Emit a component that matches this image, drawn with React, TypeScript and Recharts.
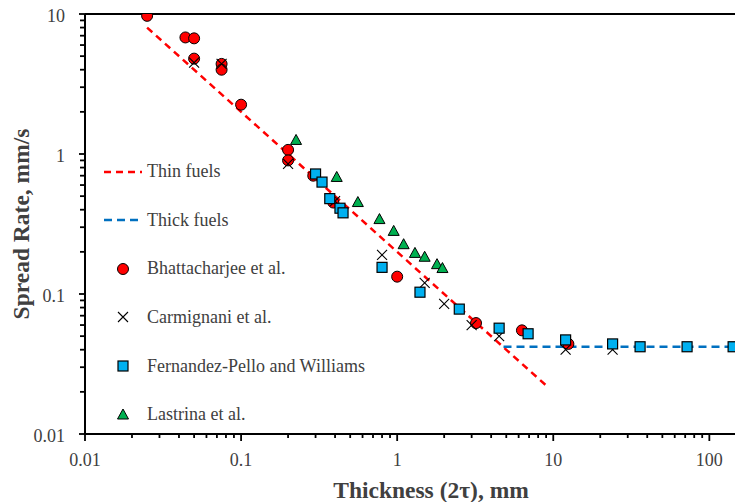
import { ScatterChart, Scatter, XAxis, YAxis, ReferenceLine, Legend, Label } from 'recharts'

type Pt = { x: number; y: number }

// model lines
const thinFuels: Pt[] = [{ x: 0.025, y: 8.0 }, { x: 9.3, y: 0.0215 }]
const thickFuels: Pt[] = [{ x: 4.8, y: 0.042 }, { x: 146, y: 0.042 }]

// measurements
const bhattacharjee: Pt[] = [
  { x: 0.025, y: 9.7 }, { x: 0.044, y: 6.8 }, { x: 0.05, y: 6.7 }, { x: 0.05, y: 4.8 },
  { x: 0.075, y: 4.4 }, { x: 0.075, y: 4.0 }, { x: 0.1, y: 2.25 }, { x: 0.2, y: 1.07 },
  { x: 0.2, y: 0.9 }, { x: 0.29, y: 0.7 }, { x: 0.39, y: 0.45 }, { x: 1.0, y: 0.133 },
  { x: 3.2, y: 0.062 }, { x: 6.3, y: 0.055 }, { x: 12.5, y: 0.044 },
]
const carmignani: Pt[] = [
  { x: 0.05, y: 4.5 }, { x: 0.075, y: 4.4 }, { x: 0.2, y: 0.85 }, { x: 0.4, y: 0.46 },
  { x: 0.8, y: 0.19 }, { x: 1.5, y: 0.12 }, { x: 2.0, y: 0.085 }, { x: 3.0, y: 0.06 },
  { x: 4.5, y: 0.05 }, { x: 12, y: 0.04 }, { x: 24, y: 0.04 },
]
const fernandezPello: Pt[] = [
  { x: 0.3, y: 0.72 }, { x: 0.33, y: 0.63 }, { x: 0.37, y: 0.48 }, { x: 0.43, y: 0.41 },
  { x: 0.45, y: 0.38 }, { x: 0.8, y: 0.155 }, { x: 1.4, y: 0.103 }, { x: 2.5, y: 0.078 },
  { x: 4.5, y: 0.057 }, { x: 6.9, y: 0.052 }, { x: 12, y: 0.047 }, { x: 24, y: 0.044 },
  { x: 36, y: 0.042 }, { x: 72, y: 0.042 }, { x: 142, y: 0.042 },
]
const lastrina: Pt[] = [
  { x: 0.225, y: 1.25 }, { x: 0.41, y: 0.68 }, { x: 0.56, y: 0.45 }, { x: 0.77, y: 0.34 },
  { x: 0.95, y: 0.28 }, { x: 1.1, y: 0.225 }, { x: 1.3, y: 0.195 }, { x: 1.5, y: 0.183 },
  { x: 1.8, y: 0.162 }, { x: 1.95, y: 0.152 },
]

const xDecades = [0.01, 0.1, 1, 10, 100]
const xDecadeLabels = ['0.01', '0.1', '1', '10', '100']
const yDecades = [0.01, 0.1, 1, 10]
const yDecadeLabels = ['0.01', '0.1', '1', '10']
const minorSteps = [2, 3, 4, 5, 6, 7, 8, 9]

const X_MAX = 146
const FONT = '"Liberation Serif", "Times New Roman", serif'
const TEXT = '#404040'

const RED = '#ff0000'
const BLUE_LINE = '#0070c0'
const CYAN = '#00b0f0'
const GREEN = '#00b050'

function withMinors(decades: number[], max: number) {
  const out: number[] = []
  decades.forEach(d => {
    out.push(d)
    minorSteps.forEach(m => {
      const v = +(d * m).toPrecision(3)
      if (v <= max) out.push(v)
    })
  })
  return out
}

const xTicks = withMinors(xDecades, X_MAX)
const yTicks = withMinors(yDecades, 10)

function XTick({ x, y, payload }: any) {
  const i = xDecades.indexOf(payload.value)
  const major = i >= 0
  return (
    <g>
      <line x1={x} x2={x} y1={y} y2={y + (major ? 7 : 4)} stroke="#000" strokeWidth={1.8} />
      {major && (
        <text x={x} y={y + 32} textAnchor="middle" fontSize={18} fontFamily={FONT} fill={TEXT}>
          {xDecadeLabels[i]}
        </text>
      )}
    </g>
  )
}

function YTick({ x, y, payload }: any) {
  const i = yDecades.indexOf(payload.value)
  const major = i >= 0
  return (
    <g>
      <line x1={x - (major ? 6 : 5)} x2={x} y1={y} y2={y} stroke="#000" strokeWidth={1.8} />
      {major && (
        <text x={x - 20} y={y + 8} textAnchor="end" fontSize={18} fontFamily={FONT} fill={TEXT}>
          {yDecadeLabels[i]}
        </text>
      )}
    </g>
  )
}

// marker shapes
const Dot = ({ cx, cy }: any) => <circle cx={cx} cy={cy} r={5.5} fill={RED} stroke="#000" strokeWidth={1} />
const Cross = ({ cx, cy }: any) => (
  <path d={`M${cx - 5},${cy - 5}L${cx + 5},${cy + 5}M${cx - 5},${cy + 5}L${cx + 5},${cy - 5}`} stroke="#000" strokeWidth={1.1} fill="none" />
)
const Square = ({ cx, cy }: any) => (
  <rect x={cx - 5} y={cy - 5} width={10} height={10} fill={CYAN} stroke="#000" strokeWidth={1.2} />
)
const Tri = ({ cx, cy }: any) => (
  <path d={`M${cx},${cy - 6}L${cx + 5.5},${cy + 4}L${cx - 5.5},${cy + 4}Z`} fill={GREEN} stroke="#000" strokeWidth={1} />
)
const NoMark = () => <g />

const legendItems = [
  { label: 'Thin fuels', line: RED, dash: '7 5' },
  { label: 'Thick fuels', line: BLUE_LINE, dash: '8 5' },
  { label: 'Bhattacharjee et al.', Mark: Dot },
  { label: 'Carmignani et al.', Mark: Cross },
  { label: 'Fernandez-Pello and Williams', Mark: Square },
  { label: 'Lastrina et al.', Mark: Tri },
]

function renderLegend() {
  return (
    <div style={{ fontFamily: FONT, fontSize: 18, color: TEXT }}>
      {legendItems.map(item => (
        <div key={item.label} style={{ display: 'flex', alignItems: 'center', height: 48.6 }}>
          <svg width={38} height={14} style={{ marginRight: 5, overflow: 'visible' }}>
            {item.line && (
              <line x1={0} x2={38} y1={7} y2={7} stroke={item.line} strokeWidth={2.5} strokeDasharray={item.dash} />
            )}
            {item.Mark && <item.Mark cx={19} cy={7} />}
          </svg>
          <span style={{ whiteSpace: 'nowrap' }}>{item.label}</span>
        </div>
      ))}
    </div>
  )
}

export default function App() {
  return (
    <div style={{ position: 'absolute', left: 0, top: 0, background: '#fff' }}>
      <ScatterChart width={735} height={502} margin={{ top: 14, right: 0, bottom: 0, left: 0 }}>
        <XAxis
          dataKey="x" type="number" scale="log" domain={[0.01, X_MAX]} allowDataOverflow
          ticks={xTicks} interval={0} tickSize={0} tickMargin={0} tickLine={false}
          tick={<XTick />} height={68} axisLine={{ stroke: '#000', strokeWidth: 2 }}
        >
          <Label
            content={(p: any) => {
              const vb = p.viewBox
              return (
                <text x={vb.x + vb.width / 2 + 21} y={vb.y + vb.height - 4} textAnchor="middle"
                  fontSize={23.5} fontWeight="bold" fontFamily={FONT} fill={TEXT}>
                  Thickness (2τ), mm
                </text>
              )
            }}
          />
        </XAxis>
        <YAxis
          dataKey="y" type="number" scale="log" domain={[0.01, 10]} allowDataOverflow
          ticks={yTicks} interval={0} tickSize={0} tickMargin={0} tickLine={false}
          tick={<YTick />} width={85} axisLine={{ stroke: '#000', strokeWidth: 2 }}
        >
          <Label
            content={(p: any) => {
              const vb = p.viewBox
              const cx = vb.x + 21
              const cy = vb.y + vb.height / 2
              return (
                <text x={cx} y={cy} transform={`rotate(-90, ${cx}, ${cy})`} textAnchor="middle"
                  dominantBaseline="central" fontSize={23.5} fontWeight="bold" fontFamily={FONT} fill={TEXT}>
                  Spread Rate, mm/s
                </text>
              )
            }}
          />
        </YAxis>
        <ReferenceLine y={10} stroke="#000" strokeWidth={2} />

        <Scatter data={thinFuels} shape={NoMark} isAnimationActive={false}
          line={{ stroke: RED, strokeWidth: 2.5, strokeDasharray: '7 5' }} />
        <Scatter data={thickFuels} shape={NoMark} isAnimationActive={false}
          line={{ stroke: BLUE_LINE, strokeWidth: 2.5, strokeDasharray: '8 5' }} />

        <Scatter data={bhattacharjee} shape={Dot} isAnimationActive={false} />
        <Scatter data={carmignani} shape={Cross} isAnimationActive={false} />
        <Scatter data={fernandezPello} shape={Square} isAnimationActive={false} />
        <Scatter data={lastrina} shape={Tri} isAnimationActive={false} />

        <Legend content={renderLegend} layout="vertical" align="center" verticalAlign="middle"
          wrapperStyle={{ left: 104, top: 147.4, width: 320 }} />
      </ScatterChart>
    </div>
  )
}
